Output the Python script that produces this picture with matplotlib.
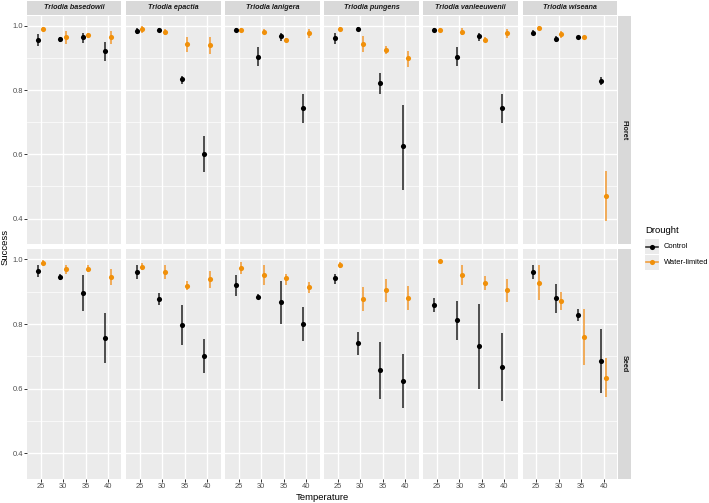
import matplotlib
matplotlib.use("Agg")
import matplotlib.pyplot as plt
from matplotlib.patches import Rectangle
from matplotlib.lines import Line2D

plt.rcParams["font.family"] = ["Liberation Sans", "DejaVu Sans"]

species = ["Triodia basedowii", "Triodia epactia", "Triodia lanigera",
           "Triodia pungens", "Triodia vanleeuwenii", "Triodia wiseana"]
temps = ["25", "30", "35", "40"]
parts = ["Floret", "Seed"]
groups = ["Control", "Water-limited"]

# Floret, control
floret_control_mean = [[0.957, 0.959, 0.964, 0.920], [0.984, 0.987, 0.833, 0.600],
                       [0.987, 0.904, 0.967, 0.745], [0.962, 0.991, 0.821, 0.625],
                       [0.987, 0.904, 0.967, 0.745], [0.979, 0.959, 0.964, 0.829]]
floret_control_lo = [[0.938, 0.951, 0.946, 0.889], [0.974, 0.982, 0.819, 0.545],
                     [0.980, 0.874, 0.953, 0.697], [0.943, 0.985, 0.788, 0.490],
                     [0.980, 0.874, 0.953, 0.697], [0.972, 0.950, 0.960, 0.817]]
floret_control_hi = [[0.974, 0.966, 0.979, 0.948], [0.993, 0.992, 0.845, 0.656],
                     [0.993, 0.935, 0.977, 0.788], [0.979, 0.996, 0.852, 0.755],
                     [0.993, 0.935, 0.979, 0.788], [0.986, 0.968, 0.968, 0.841]]
# Floret, water-limited
floret_water_mean = [[0.990, 0.964, 0.971, 0.964], [0.990, 0.982, 0.943, 0.941],
                     [0.987, 0.982, 0.956, 0.977], [0.990, 0.943, 0.926, 0.899],
                     [0.987, 0.982, 0.956, 0.977], [0.993, 0.974, 0.964, 0.471]]
floret_water_lo = [[0.985, 0.943, 0.962, 0.943], [0.979, 0.972, 0.917, 0.912],
                   [0.980, 0.974, 0.950, 0.962], [0.985, 0.917, 0.912, 0.873],
                   [0.980, 0.972, 0.948, 0.962], [0.988, 0.962, 0.959, 0.393]]
floret_water_hi = [[0.995, 0.984, 0.979, 0.984], [1.000, 0.991, 0.966, 0.966],
                   [0.993, 0.991, 0.962, 0.990], [0.995, 0.967, 0.938, 0.922],
                   [0.993, 0.992, 0.964, 0.990], [0.998, 0.984, 0.969, 0.548]]
# Seed, control
seed_control_mean = [[0.964, 0.946, 0.896, 0.756], [0.961, 0.878, 0.798, 0.702],
                     [0.920, 0.884, 0.867, 0.800], [0.941, 0.741, 0.658, 0.625],
                     [0.858, 0.811, 0.731, 0.668], [0.961, 0.880, 0.827, 0.687]]
seed_control_lo = [[0.946, 0.936, 0.839, 0.681], [0.940, 0.858, 0.736, 0.648],
                   [0.888, 0.876, 0.801, 0.748], [0.924, 0.705, 0.568, 0.539],
                   [0.836, 0.751, 0.599, 0.563], [0.940, 0.834, 0.808, 0.588]]
seed_control_hi = [[0.981, 0.955, 0.953, 0.834], [0.981, 0.896, 0.860, 0.753],
                   [0.953, 0.893, 0.933, 0.853], [0.955, 0.774, 0.746, 0.708],
                   [0.879, 0.870, 0.862, 0.772], [0.981, 0.925, 0.847, 0.785]]
# Seed, water-limited
seed_water_mean = [[0.990, 0.971, 0.971, 0.946], [0.977, 0.961, 0.919, 0.938],
                   [0.974, 0.951, 0.941, 0.914], [0.982, 0.878, 0.904, 0.880],
                   [0.995, 0.951, 0.927, 0.904], [0.927, 0.870, 0.761, 0.634]]
seed_water_lo = [[0.981, 0.956, 0.961, 0.922], [0.967, 0.940, 0.905, 0.912],
                 [0.955, 0.920, 0.922, 0.896], [0.972, 0.839, 0.868, 0.842],
                 [0.991, 0.920, 0.905, 0.868], [0.874, 0.842, 0.674, 0.575]]
seed_water_hi = [[0.998, 0.984, 0.981, 0.971], [0.988, 0.981, 0.933, 0.964],
                 [0.992, 0.981, 0.956, 0.931], [0.991, 0.914, 0.938, 0.917],
                 [0.999, 0.982, 0.948, 0.938], [0.981, 0.898, 0.847, 0.694]]

data = {
    ("Floret", "Control"): (floret_control_mean, floret_control_lo, floret_control_hi),
    ("Floret", "Water-limited"): (floret_water_mean, floret_water_lo, floret_water_hi),
    ("Seed", "Control"): (seed_control_mean, seed_control_lo, seed_control_hi),
    ("Seed", "Water-limited"): (seed_water_mean, seed_water_lo, seed_water_hi),
}
colors = {"Control": "black", "Water-limited": "#F0900A"}
bar_colors = {"Control": "#333333", "Water-limited": "#F2A040"}
dodge = {"Control": -0.12, "Water-limited": 0.12}

W, H = 709, 503
fig = plt.figure(figsize=(W / 100, H / 100), dpi=100)


def box(x0, y0, x1, y1):
    return [x0 / W, 1 - y1 / H, (x1 - x0) / W, (y1 - y0) / H]


panel_left = 27
panel_w = 94.5
panel_gap = 4.6
rows_y = [(15.5, 244), (249, 479)]
strip_bg = "#D9D9D9"
panel_bg = "#EBEBEB"
tick_size = 5.4
title_size = 6.8

for r, part in enumerate(parts):
    y0, y1 = rows_y[r]
    for c, sp in enumerate(species):
        x0 = panel_left + c * (panel_w + panel_gap)
        ax = fig.add_axes(box(x0, y0, x0 + panel_w, y1))
        ax.set_facecolor(panel_bg)
        for s in ax.spines.values():
            s.set_visible(False)
        ax.set_xlim(0.4, 4.6)
        ax.set_ylim(0.321, 1.032)
        ax.set_xticks(range(1, 5))
        ax.set_xticklabels(temps)
        ax.set_yticks([0.4, 0.6, 0.8, 1.0])
        ax.set_yticklabels(["0.4", "0.6", "0.8", "1.0"])
        ax.set_yticks([0.5, 0.7, 0.9], minor=True)
        ax.grid(True, which="major", color="white", linewidth=1.0)
        ax.grid(True, which="minor", axis="y", color="white", linewidth=0.5)
        ax.set_axisbelow(True)
        ax.tick_params(which="minor", length=0)
        ax.tick_params(which="major", length=2.0, width=0.7, color="#333333",
                       labelsize=tick_size, labelcolor="#4D4D4D", pad=1.0)
        if c != 0:
            ax.tick_params(axis="y", length=0, labelleft=False)
        if r != len(parts) - 1:
            ax.tick_params(axis="x", length=0, labelbottom=False)

        for g in groups:
            mean, lo, hi = data[(part, g)]
            xs = [i + 1 + dodge[g] for i in range(len(temps))]
            ax.vlines(xs, lo[c], hi[c], color=bar_colors[g], linewidth=1.2, zorder=2)
            ax.plot(xs, mean[c], "o", color=colors[g], markersize=3.7,
                    markeredgewidth=0, zorder=3)

        if r == 0:
            sax = fig.add_axes(box(x0, 0.5, x0 + panel_w, y0 - 0.5))
            sax.set_facecolor(strip_bg)
            sax.set_xticks([])
            sax.set_yticks([])
            for s in sax.spines.values():
                s.set_visible(False)
            sax.text(0.5, 0.5, sp, ha="center", va="center", fontsize=5.2,
                     fontstyle="italic", fontweight="bold", color="#1A1A1A",
                     transform=sax.transAxes)

    right_x0 = panel_left + 6 * panel_w + 5 * panel_gap
    rax = fig.add_axes(box(right_x0 + 0.5, y0, right_x0 + 13.5, y1))
    rax.set_facecolor(strip_bg)
    rax.set_xticks([])
    rax.set_yticks([])
    for s in rax.spines.values():
        s.set_visible(False)
    rax.text(0.5, 0.5, part, ha="center", va="center", rotation=270,
             fontsize=5.2, fontweight="bold", color="#1A1A1A", transform=rax.transAxes)

# axis titles
fig.text(5 / W, 1 - 247 / H, "Success", rotation=90, ha="center", va="center",
         fontsize=title_size, color="black")
fig.text((panel_left + 3 * panel_w + 2.5 * panel_gap) / W, 1 - 497 / H, "Temperature",
         ha="center", va="center", fontsize=title_size, color="black")

# legend
fig.text(645 / W, 1 - 230 / H, "Drought", ha="left", va="center", fontsize=title_size,
         color="black")
for i, g in enumerate(groups):
    cy = 247 + i * 15
    fig.add_artist(Rectangle((645 / W, 1 - (cy + 7.5) / H), 14 / W, 15 / H,
                             transform=fig.transFigure, facecolor=panel_bg,
                             edgecolor="none"))
    fig.add_artist(Line2D([646 / W, 658 / W], [1 - cy / H, 1 - cy / H],
                          transform=fig.transFigure, color=bar_colors[g], linewidth=1.2))
    fig.add_artist(Line2D([652 / W], [1 - cy / H], transform=fig.transFigure,
                          marker="o", color=colors[g], markersize=3.7, markeredgewidth=0))
    fig.text(664 / W, 1 - cy / H, g, ha="left", va="center", fontsize=tick_size,
             color="black")

fig.savefig("out.png", dpi=100)
